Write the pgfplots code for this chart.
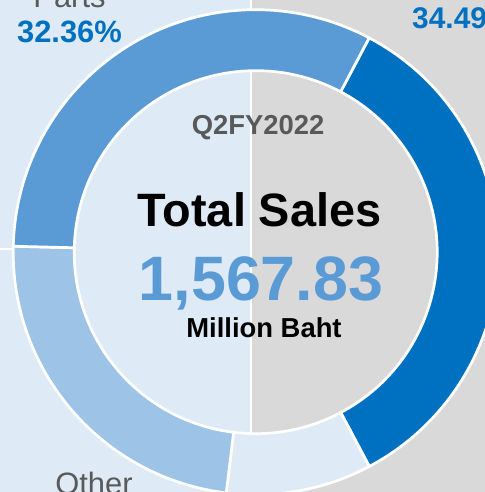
\documentclass[border=0pt]{standalone}
\usepackage{pgfplots}
\usepackage{pgfplotstable}
\pgfplotsset{compat=1.18}
\usepackage{fontspec}
\setmainfont{Liberation Sans}
\definecolor{bgblue}{HTML}{DEEBF7}
\definecolor{bggray}{HTML}{D9D9D9}
\definecolor{midblue}{HTML}{5B9BD5}
\definecolor{darkblue}{HTML}{0070C0}
\definecolor{lightblue}{HTML}{9DC3E6}
\definecolor{paleblue}{HTML}{DEEBF7}
\definecolor{txtgray}{HTML}{595959}

\pgfplotstableread[col sep=comma]{
name,pct
Dark,34.49
Pale,9.70
Other,23.45
Parts,32.36
}\donutdata

\begin{document}
\begin{tikzpicture}
\pgfmathsetmacro{\aA}{62.1}
\pgfplotstablegetelem{0}{pct}\of\donutdata
\pgfmathsetmacro{\aB}{\aA-3.6*\pgfplotsretval}
\pgfplotstablegetelem{1}{pct}\of\donutdata
\pgfmathsetmacro{\aC}{\aB-3.6*\pgfplotsretval}
\pgfplotstablegetelem{2}{pct}\of\donutdata
\pgfmathsetmacro{\aD}{\aC-3.6*\pgfplotsretval}
\pgfplotstablegetelem{3}{pct}\of\donutdata
\pgfmathsetmacro{\aE}{\aD-3.6*\pgfplotsretval}
\begin{axis}[name=ax, x=1bp, y=1bp, xmin=0, xmax=485, ymin=0, ymax=492,
  enlargelimits=false, hide axis, clip=true]
\addplot[draw=none] coordinates {(0,0)};
% backgrounds
\fill[bgblue] (axis cs:-5,-10) rectangle (axis cs:250,500);
\fill[white] (axis cs:-5,241.6) rectangle (axis cs:40,244);
\fill[bggray] (axis cs:252.3,-10) rectangle (axis cs:490,500);
% donut sectors
\fill[darkblue, draw=white, line width=2.7bp] (axis cs:255.7,239.8) ++(\aA:242.5bp)
  arc[start angle=\aA, end angle=\aB, radius=242.5bp] -- ++(\aB:-61bp)
  arc[start angle=\aB, end angle=\aA, radius=181.5bp] -- cycle;
\fill[paleblue, draw=white, line width=2.7bp] (axis cs:255.7,239.8) ++(\aB:242.5bp)
  arc[start angle=\aB, end angle=\aC, radius=242.5bp] -- ++(\aC:-61bp)
  arc[start angle=\aC, end angle=\aB, radius=181.5bp] -- cycle;
\fill[lightblue, draw=white, line width=2.7bp] (axis cs:255.7,239.8) ++(\aC:242.5bp)
  arc[start angle=\aC, end angle=\aD, radius=242.5bp] -- ++(\aD:-61bp)
  arc[start angle=\aD, end angle=\aC, radius=181.5bp] -- cycle;
\fill[midblue, draw=white, line width=2.7bp] (axis cs:255.7,239.8) ++(\aD:242.5bp)
  arc[start angle=\aD, end angle=\aE, radius=242.5bp] -- ++(\aE:-61bp)
  arc[start angle=\aE, end angle=\aD, radius=181.5bp] -- cycle;
% centre texts
\node[anchor=base, inner sep=0, text=txtgray, font=\bfseries\fontsize{27.5}{30}\selectfont] at (axis cs:258,357) {Q2FY2022};
\node[anchor=base, inner sep=0, text=black, font=\bfseries\fontsize{47}{50}\selectfont] at (axis cs:259.5,265) {Total Sales};
\node[anchor=base, inner sep=0, text=midblue, font=\bfseries\fontsize{63}{66}\selectfont] at (axis cs:261,191) {1,567.83};
\node[anchor=base, inner sep=0, text=black, font=\bfseries\fontsize{27.5}{30}\selectfont] at (axis cs:264,154) {Million Baht};
% outer labels
\node[anchor=base, inner sep=0, text=txtgray, font=\fontsize{31}{34}\selectfont] at (axis cs:69.5,484.5) {Parts};
\node[anchor=base, inner sep=0, text=darkblue, font=\bfseries\fontsize{31}{34}\selectfont] at (axis cs:69.5,449) {32.36\%};
\node[anchor=base west, inner sep=0, text=darkblue, font=\bfseries\fontsize{30}{33}\selectfont] at (axis cs:412,463) {34.49\%};
\node[anchor=base, inner sep=0, text=txtgray, font=\fontsize{31}{34}\selectfont] at (axis cs:94,-2) {Other};
\end{axis}
\pgfresetboundingbox
\useasboundingbox (ax.south west) rectangle (ax.north east);
\end{tikzpicture}
\end{document}
